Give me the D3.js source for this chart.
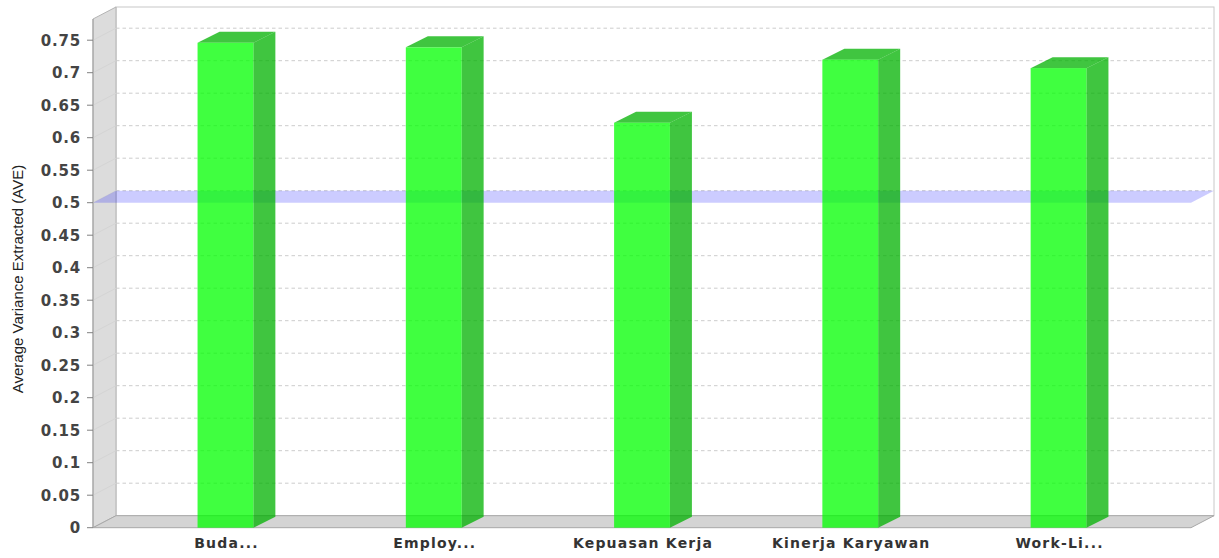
<!DOCTYPE html>
<html>
<head>
<meta charset="utf-8">
<script src="https://cdn.jsdelivr.net/npm/d3@7"></script>
<style>
  html, body { margin: 0; padding: 0; background: #fff; }
  svg { display: block; }
</style>
</head>
<body>
<svg id="chart" width="1219" height="558"></svg>
<script>
// Average Variance Extracted per construct, with the 0.5 threshold marker
const categories = ["Buda...", "Employ...", "Kepuasan Kerja", "Kinerja Karyawan", "Work-Li..."];
const aveValues = [0.746, 0.739, 0.623, 0.720, 0.707];
const yTicks = [0, 0.05, 0.1, 0.15, 0.2, 0.25, 0.3, 0.35, 0.4, 0.45, 0.5, 0.55, 0.6, 0.65, 0.7, 0.75];
const thresholdValue = 0.5;
const yAxisTitle = "Average Variance Extracted (AVE)";

const svg = d3.select("#chart");

// front plane of the 3D plot and the depth offset of the back wall
const pLeft = 93, pRight = 1191, pBottom = 527.7, pTop = 19;
const dx = 23, dy = 12;

const y = d3.scaleLinear().domain([0, 0.7826]).range([pBottom, pTop]);
const x = d3.scaleBand().domain(categories).range([pLeft, pRight])
  .paddingInner(0.732).paddingOuter(0.502);

const poly = pts => pts.map(p => p.join(",")).join(" ");

// back wall
svg.append("rect")
  .attr("x", pLeft + dx).attr("y", pTop - dy)
  .attr("width", pRight - pLeft).attr("height", pBottom - pTop)
  .attr("fill", "#ffffff").attr("stroke", "#c8c8c8").attr("stroke-width", 1);

// left wall
svg.append("polygon")
  .attr("points", poly([[pLeft, pTop], [pLeft + dx, pTop - dy], [pLeft + dx, pBottom - dy], [pLeft, pBottom]]))
  .attr("fill", "#dcdcdc").attr("stroke", "#b4b4b4").attr("stroke-width", 1);

// floor
svg.append("polygon")
  .attr("points", poly([[pLeft, pBottom], [pLeft + dx, pBottom - dy], [pRight + dx, pBottom - dy], [pRight, pBottom]]))
  .attr("fill", "#d4d4d4").attr("stroke", "#a8a8a8").attr("stroke-width", 1);

// gridlines on the back wall and their traces on the left wall
const grid = yTicks.filter(t => t > 0);
svg.append("g").selectAll("line").data(grid).join("line")
  .attr("x1", pLeft + dx).attr("x2", pRight + dx)
  .attr("y1", d => y(d) - dy).attr("y2", d => y(d) - dy)
  .attr("stroke", "#cccccc").attr("stroke-width", 1).attr("stroke-dasharray", "3.5,3");
svg.append("g").selectAll("line").data(grid).join("line")
  .attr("x1", pLeft).attr("x2", pLeft + dx)
  .attr("y1", d => y(d)).attr("y2", d => y(d) - dy)
  .attr("stroke", "#d4d4d4").attr("stroke-width", 1);

// threshold marker band at AVE = 0.5
const ym = y(thresholdValue);
svg.append("polygon")
  .attr("points", poly([[pLeft, ym], [pLeft + dx, ym - dy], [pRight + dx, ym - dy], [pRight, ym]]))
  .attr("fill", "#0000ff").attr("fill-opacity", 0.2);

// 3D bars
const bars = svg.append("g").selectAll("g").data(categories.map((c, i) => ({c, v: aveValues[i]}))).join("g");
const bw = x.bandwidth();
const bdx = 22, bdy = 11;
bars.append("polygon") // side face
  .attr("points", d => {
    const x1 = x(d.c) + bw, yt = y(d.v), yb = y(0);
    return poly([[x1, yt], [x1 + bdx, yt - bdy], [x1 + bdx, yb - bdy], [x1, yb]]);
  })
  .attr("fill", "#00b200").attr("fill-opacity", 0.75);
bars.append("polygon") // top face
  .attr("points", d => {
    const x0 = x(d.c), x1 = x0 + bw, yt = y(d.v);
    return poly([[x0, yt], [x0 + bdx, yt - bdy], [x1 + bdx, yt - bdy], [x1, yt]]);
  })
  .attr("fill", "#00b200").attr("fill-opacity", 0.75);
bars.append("rect") // front face
  .attr("x", d => x(d.c)).attr("width", bw)
  .attr("y", d => y(d.v)).attr("height", d => y(0) - y(d.v))
  .attr("fill", "#00ff00").attr("fill-opacity", 0.75);

// value axis
const axis = svg.append("g");
axis.append("line")
  .attr("x1", pLeft).attr("x2", pLeft).attr("y1", pTop).attr("y2", pBottom)
  .attr("stroke", "#a0a0a0");
axis.selectAll("line.tick").data(yTicks).join("line")
  .attr("class", "tick")
  .attr("x1", pLeft - 6).attr("x2", pLeft)
  .attr("y1", d => y(d)).attr("y2", d => y(d))
  .attr("stroke", "#808080");
axis.selectAll("text").data(yTicks).join("text")
  .attr("x", 81).attr("y", d => y(d))
  .attr("dy", "0.36em")
  .attr("text-anchor", "end")
  .attr("font-family", "DejaVu Sans, sans-serif")
  .attr("font-weight", "bold")
  .attr("font-size", 15)
  .attr("letter-spacing", "0.8px")
  .attr("fill", "#444444")
  .text(d => d3.format("~g")(d));

svg.append("text")
  .attr("transform", `translate(23, 279) rotate(-90)`)
  .attr("text-anchor", "middle")
  .attr("font-family", "Liberation Sans, Arial, sans-serif")
  .attr("font-size", 15)
  .attr("fill", "#222222")
  .text(yAxisTitle);

// category labels
svg.append("g").selectAll("text").data(categories).join("text")
  .attr("x", d => x(d) + bw / 2 + 1)
  .attr("y", 548)
  .attr("text-anchor", "middle")
  .attr("font-family", "DejaVu Sans, sans-serif")
  .attr("font-weight", "bold")
  .attr("font-size", 14)
  .attr("letter-spacing", "1.2px")
  .attr("fill", "#333333")
  .text(d => d);
</script>
</body>
</html>
